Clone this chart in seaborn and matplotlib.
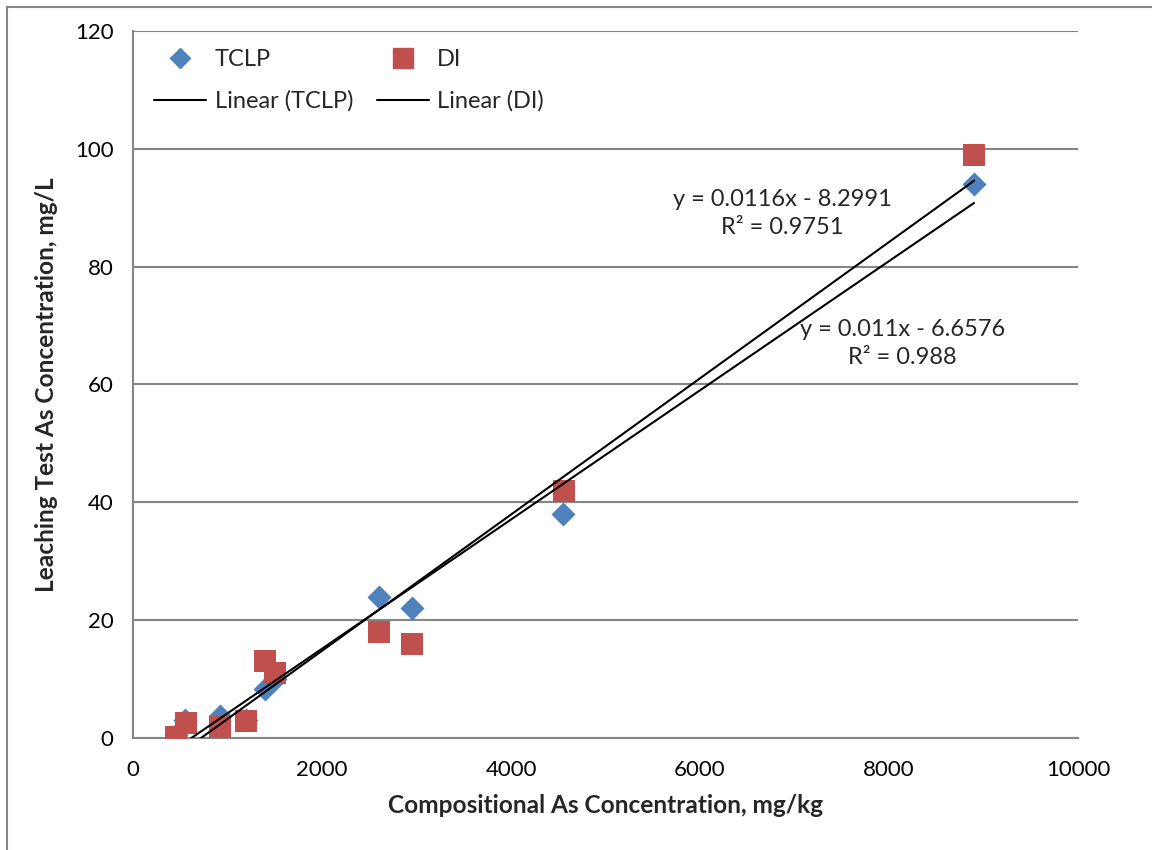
import numpy as np
import pandas as pd
import matplotlib
matplotlib.use("Agg")
import matplotlib.pyplot as plt
from matplotlib.lines import Line2D
from matplotlib.patches import Rectangle
import seaborn as sns

# data (compositional mg/kg vs leachate mg/L)
tclp_x = [450, 550, 920, 1200, 1400, 1500, 2600, 2950, 4550, 8900]
tclp_y = [0.5, 3.0, 3.8, 3.0, 8.3, 10.0, 24.0, 22.0, 38.0, 94.0]
di_x = [450, 560, 920, 1200, 1400, 1500, 2600, 2950, 4560, 8900]
di_y = [0.2, 2.5, 1.8, 2.8, 13.0, 11.0, 18.0, 16.0, 42.0, 99.0]

eq_tclp = "y = 0.011x - 6.6576\nR² = 0.988"
eq_di = "y = 0.0116x - 8.2991\nR² = 0.9751"

blue = "#4F81BD"
red = "#C0504D"
grey = "#868686"

sns.set_style("white")
plt.rcParams["font.family"] = ["Lato", "DejaVu Sans"]

df_t = pd.DataFrame({"x": tclp_x, "y": tclp_y})
df_d = pd.DataFrame({"x": di_x, "y": di_y})

fig = plt.figure(figsize=(11.52, 8.5), dpi=100)
ax = fig.add_axes([0.1155, 0.1318, 0.8203, 0.8317])

# outer chart border (cut off on the right/bottom in the original)
fig.patches.append(Rectangle((7 / 1152, -0.1), 1.2, 1 - 7 / 850 + 0.1,
                             transform=fig.transFigure, fill=False,
                             edgecolor=grey, lw=1.5))

sns.scatterplot(data=df_t, x="x", y="y", marker="D", s=150, color=blue,
                edgecolor=blue, linewidth=0, ax=ax, zorder=3)
sns.scatterplot(data=df_d, x="x", y="y", marker="s", s=230, color=red,
                edgecolor=red, linewidth=0, ax=ax, zorder=4)
sns.regplot(data=df_t, x="x", y="y", scatter=False, ci=None, ax=ax,
            line_kws={"color": "black", "lw": 1.5, "zorder": 5})
sns.regplot(data=df_d, x="x", y="y", scatter=False, ci=None, ax=ax,
            line_kws={"color": "black", "lw": 1.5, "zorder": 5})

ax.set_xlim(0, 10000)
ax.set_ylim(0, 120)
ax.set_xticks(np.arange(0, 10001, 2000))
ax.set_yticks(np.arange(0, 121, 20))
ax.yaxis.grid(True, color=grey, lw=1.5)
ax.set_axisbelow(True)
for s in ["top", "right"]:
    ax.spines[s].set_visible(False)
for s in ["left", "bottom"]:
    ax.spines[s].set_color(grey)
    ax.spines[s].set_linewidth(1.5)
ax.tick_params(axis="both", direction="out", length=8, width=1.5,
               color=grey, labelsize=16, labelcolor="black", pad=6)
ax.tick_params(axis="x", pad=8)

ax.set_xlabel("Compositional As Concentration, mg/kg", fontsize=17.6,
              fontweight="bold", labelpad=10)
ax.set_ylabel("Leaching Test As Concentration, mg/L", fontsize=17.6,
              fontweight="bold", labelpad=12)

ax.text(6870, 89, eq_di, ha="center", va="center", fontsize=17,
        linespacing=1.4)
ax.text(8140, 67, eq_tclp, ha="center", va="center", fontsize=17,
        linespacing=1.4)

handles = [
    Line2D([], [], marker="D", ls="", color=blue, markersize=10),
    Line2D([], [], color="black", lw=1.5),
    Line2D([], [], marker="s", ls="", color=red, markersize=14),
    Line2D([], [], color="black", lw=1.5),
]
labels = ["TCLP", "Linear (TCLP)", "DI", "Linear (DI)"]
ax.legend(handles, labels, ncol=2, loc="upper left", frameon=False,
          fontsize=17, bbox_to_anchor=(0.0, 1.004), handlelength=2.2,
          handletextpad=0.35, columnspacing=1.0, labelspacing=0.85)

fig.savefig("out.png", dpi=100)
